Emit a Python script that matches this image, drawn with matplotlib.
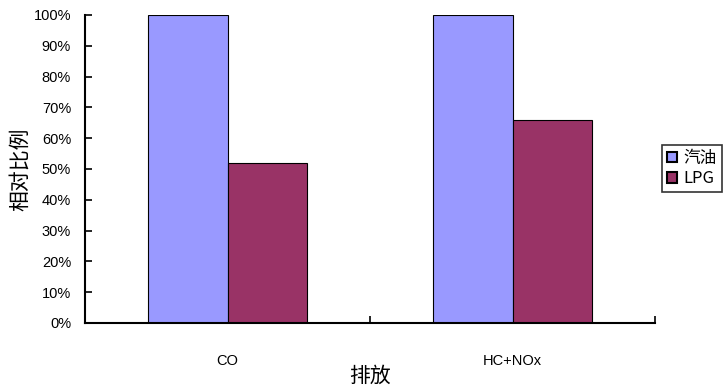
import matplotlib
matplotlib.use("Agg")
import matplotlib.pyplot as plt
import numpy as np
from matplotlib.ticker import PercentFormatter

plt.rcParams['font.family'] = ['Liberation Sans', 'Noto Sans CJK SC', 'DejaVu Sans']

categories = ["CO", "HC+NOx"]
series_names = ["汽油", "LPG"]
gasoline = [100, 100]
lpg = [52, 66]
colors = ["#9999ff", "#993366"]

fig = plt.figure(figsize=(7.24, 3.86), dpi=100)
ax = fig.add_axes([85/724, 1-323/386, (655-85)/724, (323-15)/386])

x = np.arange(len(categories))
w = 0.28
ax.bar(x - w/2, gasoline, w, color=colors[0], edgecolor="black", linewidth=0.8, label=series_names[0])
ax.bar(x + w/2, lpg, w, color=colors[1], edgecolor="black", linewidth=0.8, label=series_names[1])

ax.set_xlim(-0.5, 1.5)
ax.set_ylim(0, 100)
ax.set_yticks(np.arange(0, 101, 10))
ax.yaxis.set_major_formatter(PercentFormatter(decimals=0))
ax.set_xticks(x)
ax.set_xticklabels(categories)
ax.set_xticks([-0.5, 0.5, 1.5], minor=True)
ax.tick_params(axis='x', which='major', length=0, pad=22, labelsize=10.5)
ax.tick_params(axis='x', which='minor', direction='in', length=5, width=1.2)
ax.tick_params(axis='y', direction='in', length=5, width=1.2, labelsize=10.5, pad=10)

for s in ["top", "right"]:
    ax.spines[s].set_visible(False)
for s in ["left", "bottom"]:
    ax.spines[s].set_linewidth(1.5)

ax.set_ylabel("相对比例", fontsize=15, family=['Noto Sans CJK SC', 'DejaVu Sans'], labelpad=2)
ax.set_xlabel("排放", fontsize=15, family=['Noto Sans CJK SC', 'DejaVu Sans'], labelpad=-2)

leg = fig.legend(loc="upper left", bbox_to_anchor=(662/724, 1-145/386), frameon=True,
                 fancybox=False, edgecolor="black", handlelength=0.6, handleheight=0.6,
                 handletextpad=0.4, borderpad=0.3, labelspacing=0.2, borderaxespad=0,
                 prop={'family': ['Noto Sans CJK SC', 'DejaVu Sans'], 'size': 12})
leg.get_frame().set_linewidth(1.2)
for h in leg.legend_handles:
    h.set_linewidth(1.5)

fig.savefig("out.png", dpi=100)
